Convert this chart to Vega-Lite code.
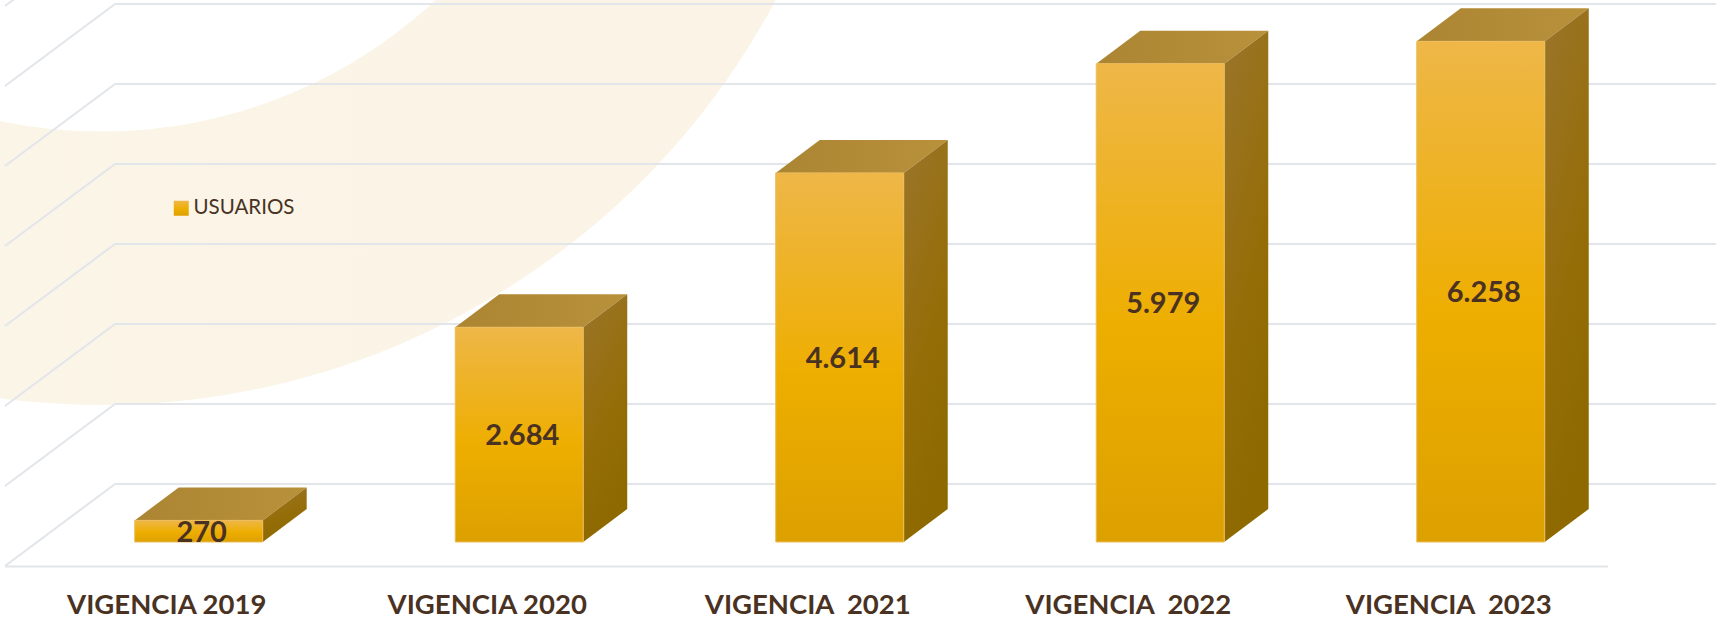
{"$schema":"https://vega.github.io/schema/vega-lite/v6.json","width":1716,"height":620,"padding":0,"autosize":"none","background":"#ffffff","config":{"view":{"stroke":null}},"datasets":{"bars":[{"vigencia":"VIGENCIA 2019","year":2019,"usuarios":270,"etiqueta":"270","serie":"USUARIOS"},{"vigencia":"VIGENCIA 2020","year":2020,"usuarios":2684,"etiqueta":"2.684","serie":"USUARIOS"},{"vigencia":"VIGENCIA\u00a0 2021","year":2021,"usuarios":4614,"etiqueta":"4.614","serie":"USUARIOS"},{"vigencia":"VIGENCIA\u00a0 2022","year":2022,"usuarios":5979,"etiqueta":"5.979","serie":"USUARIOS"},{"vigencia":"VIGENCIA\u00a0 2023","year":2023,"usuarios":6258,"etiqueta":"6.258","serie":"USUARIOS"}],"grid":[{"tick":0},{"tick":1000},{"tick":2000},{"tick":3000},{"tick":4000},{"tick":5000},{"tick":6000},{"tick":7000}]},"layer":[{"data":{"values":[{"a":1}]},"mark":{"type":"arc","clip":true,"innerRadius":490,"outerRadius":763.5,"theta":0,"theta2":6.2832,"fill":{"gradient":"linear","x1":0,"y1":0,"x2":1,"y2":0,"stops":[{"offset":0.45,"color":"#fbf5e8"},{"offset":0.95,"color":"#faf3e6"}]}},"encoding":{"x":{"datum":2018.697,"type":"quantitative","scale":{"domain":[2018.38,2023.734],"nice":false,"zero":false,"padding":0},"axis":null},"y":{"datum":11256,"type":"quantitative","scale":{"domain":[-975,6775],"nice":false,"zero":false,"padding":0},"axis":null}}},{"data":{"name":"grid"},"mark":{"type":"rule","clip":true,"color":"#e2e5ea","strokeWidth":2,"yOffset":-58,"y2Offset":-58},"encoding":{"x":{"datum":2018.7388,"type":"quantitative"},"x2":{"datum":2023.734},"y":{"field":"tick","type":"quantitative"},"y2":{"field":"tick"}}},{"data":{"name":"grid"},"mark":{"type":"rule","clip":true,"color":"#e2e5ea","strokeWidth":2,"yOffset":-58,"y2Offset":24},"encoding":{"x":{"datum":2018.7388,"type":"quantitative"},"x2":{"datum":2018.3956},"y":{"field":"tick","type":"quantitative"},"y2":{"field":"tick"}}},{"data":{"values":[{"suelo":-306}]},"mark":{"type":"rule","color":"#e2e5ea","strokeWidth":2},"encoding":{"x":{"datum":2018.3956,"type":"quantitative"},"x2":{"datum":2023.397},"y":{"field":"suelo","type":"quantitative"}}},{"data":{"name":"bars"},"mark":{"type":"point","filled":true,"opacity":1,"size":4,"shape":"M-64 0L64 0L108 -33L-20 -33Z","fill":{"gradient":"linear","x1":0,"y1":0,"x2":1,"y2":0,"stops":[{"offset":0,"color":"#ac8533"},{"offset":1,"color":"#b9913b"}]}},"encoding":{"x":{"field":"year","type":"quantitative"},"y":{"field":"usuarios","type":"quantitative"}}},{"data":{"name":"bars"},"mark":{"type":"point","filled":true,"opacity":1,"size":4,"shape":{"expr":"'M64 0L108 -33L108 '+(datum.usuarios*0.08-33)+'L64 '+(datum.usuarios*0.08)+'Z'"},"fill":{"gradient":"linear","x1":0,"y1":0,"x2":0.3,"y2":1,"stops":[{"offset":0,"color":"#9b752b"},{"offset":0.6,"color":"#956d08"},{"offset":1,"color":"#8d6900"}]}},"encoding":{"x":{"field":"year","type":"quantitative"},"y":{"field":"usuarios","type":"quantitative"}}},{"data":{"name":"bars"},"mark":{"type":"bar","size":128,"strokeWidth":1,"fill":{"gradient":"linear","x1":0,"y1":0,"x2":0,"y2":1,"stops":[{"offset":0,"color":"#eeb748"},{"offset":0.55,"color":"#eeae00"},{"offset":1,"color":"#dca000"}]}},"encoding":{"x":{"field":"year","type":"quantitative"},"y":{"field":"usuarios","type":"quantitative"},"y2":{"datum":0},"stroke":{"field":"serie","type":"nominal","scale":{"range":["#ecbd5c"]},"legend":{"orient":"none","legendX":171,"legendY":198,"title":null,"symbolType":"square","symbolSize":225,"symbolStrokeWidth":0,"labelOffset":2,"labelFont":"Lato","labelFontSize":20.5,"labelColor":"#4a3223","encode":{"symbols":{"update":{"fill":{"value":{"gradient":"linear","x1":0,"y1":0,"x2":0,"y2":1,"stops":[{"offset":0,"color":"#eeb748"},{"offset":0.55,"color":"#eeae00"},{"offset":1,"color":"#dca000"}]}}}}}}}}},{"data":{"name":"bars"},"mark":{"type":"text","font":"Lato","fontWeight":"bold","fontSize":29,"color":"#4a3223","baseline":"middle","align":"center","dx":3,"dy":{"expr":"datum.usuarios*0.04+1.5"}},"encoding":{"x":{"field":"year","type":"quantitative"},"y":{"field":"usuarios","type":"quantitative"},"text":{"field":"etiqueta"}}},{"data":{"name":"bars"},"mark":{"type":"text","font":"Lato","fontWeight":"bold","fontSize":27.5,"color":"#4a3223","baseline":"middle","align":"center","dx":-32},"encoding":{"x":{"field":"year","type":"quantitative"},"y":{"datum":-805,"type":"quantitative"},"text":{"field":"vigencia"}}}]}
